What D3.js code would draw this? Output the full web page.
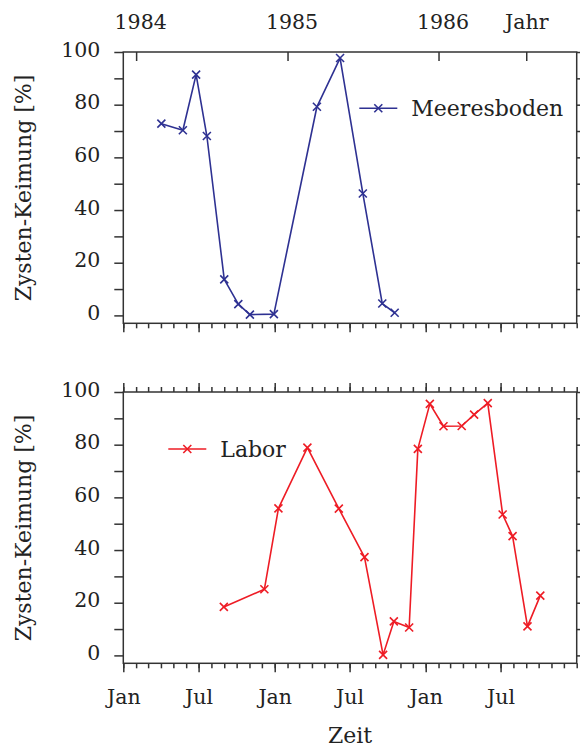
<!DOCTYPE html>
<html><head><meta charset="utf-8">
<script src="https://cdn.jsdelivr.net/npm/d3@7"></script>
<style>
html,body{margin:0;padding:0;background:#fff;}
svg{display:block;font-family:"DejaVu Serif",serif;}
</style></head><body>
<svg id="chart" width="580" height="748"></svg>
<script>
// Germination of resting cysts: sea-floor samples vs. laboratory incubation
const meeresbodenDates = ["1984-04-02","1984-05-24","1984-06-25","1984-07-21","1984-09-01","1984-10-05","1984-11-02","1984-12-30","1985-04-13","1985-06-08","1985-08-02","1985-09-18","1985-10-18"];
const meeresbodenValues = [72.8,70.3,91.4,68.1,13.7,4.3,0.3,0.5,79.2,97.7,46.3,4.5,1.0];
const laborDates = ["1984-08-31","1984-12-07","1985-01-10","1985-03-21","1985-06-05","1985-08-06","1985-09-20","1985-10-16","1985-11-22","1985-12-13","1986-01-11","1986-02-13","1986-03-29","1986-04-28","1986-05-31","1986-07-06","1986-07-30","1986-09-04","1986-10-05"];
const laborValues = [18.4,25.1,55.8,78.9,55.7,37.3,0.2,12.9,10.6,78.4,95.5,87.0,87.1,91.4,95.8,53.5,45.3,11.0,22.7];
const monthTickLabels = ["Jan","Jul","Jan","Jul","Jan","Jul"];
const monthTickDates = ["1984-01-01","1984-07-01","1985-01-01","1985-07-01","1986-01-01","1986-07-01"];
const yearTickLabels = ["1984","1985","1986","Jahr"];
const yearTickDates = ["1984-02-01","1985-02-01","1986-02-01","1986-09-01"];
const yTickValues = [0,10,20,30,40,50,60,70,80,90,100];
const yLabelEvery = 20;

const parse = d3.timeParse("%Y-%m-%d");
const svg = d3.select("#chart");
const axisColor = "#333";
const textColor = "#222";
const fontFamily = "'DejaVu Serif',serif";
const tickFont = 20.5, titleFont = 22;
const left = 123.3, right = 576.7, panelH = 271.3;

const x = d3.scaleTime()
  .domain([parse("1984-01-01"), parse("1987-01-01")])
  .range([left, right]);

const monthMajor = monthTickDates.map(parse);
const yearTicks = yearTickDates.map(parse);

function styleAxis(g) {
  g.select(".domain").remove();
  g.selectAll(".tick line").attr("stroke", axisColor).attr("stroke-width", 1.5);
  g.selectAll("text").attr("fill", textColor).attr("font-size", tickFont)
    .attr("font-family", fontFamily);
}

function drawPanel(opts) {
  const top = opts.top;
  const y = d3.scaleLinear().domain([-3, 100]).range([top + panelH, top]);
  const g = svg.append("g");

  // left axis, labelled every 20
  g.append("g").attr("transform", `translate(${left},0)`)
    .call(d3.axisLeft(y).tickValues(yTickValues).tickSize(9).tickPadding(14)
      .tickFormat(d => d % yLabelEvery === 0 ? d : ""))
    .call(styleAxis)
    .call(a => a.selectAll("text").attr("dy", "0.2em"));
  // right axis
  g.append("g").attr("transform", `translate(${right},0)`)
    .call(d3.axisRight(y).tickValues(yTickValues).tickSize(9).tickFormat(""))
    .call(styleAxis);

  // bottom axis: monthly minor, half-year major
  const bottom = g.append("g").attr("transform", `translate(0,${top + panelH})`);
  bottom.append("g").call(d3.axisBottom(x).ticks(d3.timeMonth.every(1)).tickSize(5).tickFormat("")).call(styleAxis);
  bottom.append("g").call(d3.axisBottom(x).tickValues(monthMajor).tickSize(9)
      .tickFormat((d, i) => opts.bottomLabels ? monthTickLabels[i] : ""))
    .call(styleAxis)
    .call(a => a.selectAll("text").attr("y", 41).attr("dy", 0));

  // top axis
  const topAx = g.append("g").attr("transform", `translate(0,${top})`);
  if (opts.yearAxis) {
    topAx.append("g").call(d3.axisTop(x).tickValues(yearTicks).tickSize(-9)
        .tickFormat((d, i) => yearTickLabels[i]))
      .call(styleAxis)
      .call(a => a.selectAll("text").attr("y", 29 - top).attr("dy", 0)
        .attr("dx", (d, i) => i < 3 ? 4 : 0));
  } else {
    topAx.append("g").call(d3.axisTop(x).ticks(d3.timeMonth.every(1)).tickSize(5).tickFormat("")).call(styleAxis);
    topAx.append("g").call(d3.axisTop(x).tickValues(monthMajor).tickSize(9).tickFormat("")).call(styleAxis);
  }

  // frame
  g.append("rect").attr("x", left).attr("y", top).attr("width", right - left).attr("height", panelH)
    .attr("fill", "none").attr("stroke", axisColor).attr("stroke-width", 1.5);

  // series
  const pts = opts.dates.map((d, i) => ({ date: parse(d), value: opts.values[i] }));
  const line = d3.line().x(d => x(d.date)).y(d => y(d.value));
  g.append("path").datum(pts).attr("d", line)
    .attr("fill", "none").attr("stroke", opts.color).attr("stroke-width", 1.6).attr("stroke-linejoin", "round");
  const cross = "M-4,-4L4,4M-4,4L4,-4";
  g.selectAll(null).data(pts).join("path")
    .attr("transform", d => `translate(${x(d.date)},${y(d.value)})`)
    .attr("d", cross).attr("stroke", opts.color).attr("stroke-width", 1.6).attr("fill", "none");

  // legend
  const lg = g.append("g").attr("transform", `translate(${opts.legend[0]},${opts.legend[1]})`);
  lg.append("line").attr("x1", 0).attr("x2", 38).attr("stroke", opts.color).attr("stroke-width", 1.6);
  lg.append("path").attr("transform", "translate(19,0)").attr("d", cross)
    .attr("stroke", opts.color).attr("stroke-width", 1.6);
  lg.append("text").attr("x", 52).attr("y", 8).attr("font-size", titleFont).attr("fill", textColor).text(opts.name);

  // y title
  g.append("text").attr("transform", `translate(31,${top + 136}) rotate(-90)`)
    .attr("text-anchor", "middle").attr("font-size", titleFont).attr("fill", textColor)
    .text("Zysten-Keimung [%]");
}

drawPanel({ top: 52, dates: meeresbodenDates, values: meeresbodenValues, color: "#2e3192",
  name: "Meeresboden", legend: [359.3, 108.3], yearAxis: true, bottomLabels: false });
drawPanel({ top: 392, dates: laborDates, values: laborValues, color: "#ee1c25",
  name: "Labor", legend: [168.3, 449], yearAxis: false, bottomLabels: true });

svg.append("text").attr("x", (left + right) / 2).attr("y", 743).attr("text-anchor", "middle")
  .attr("font-size", titleFont).attr("fill", textColor).text("Zeit");
</script>
</body></html>
